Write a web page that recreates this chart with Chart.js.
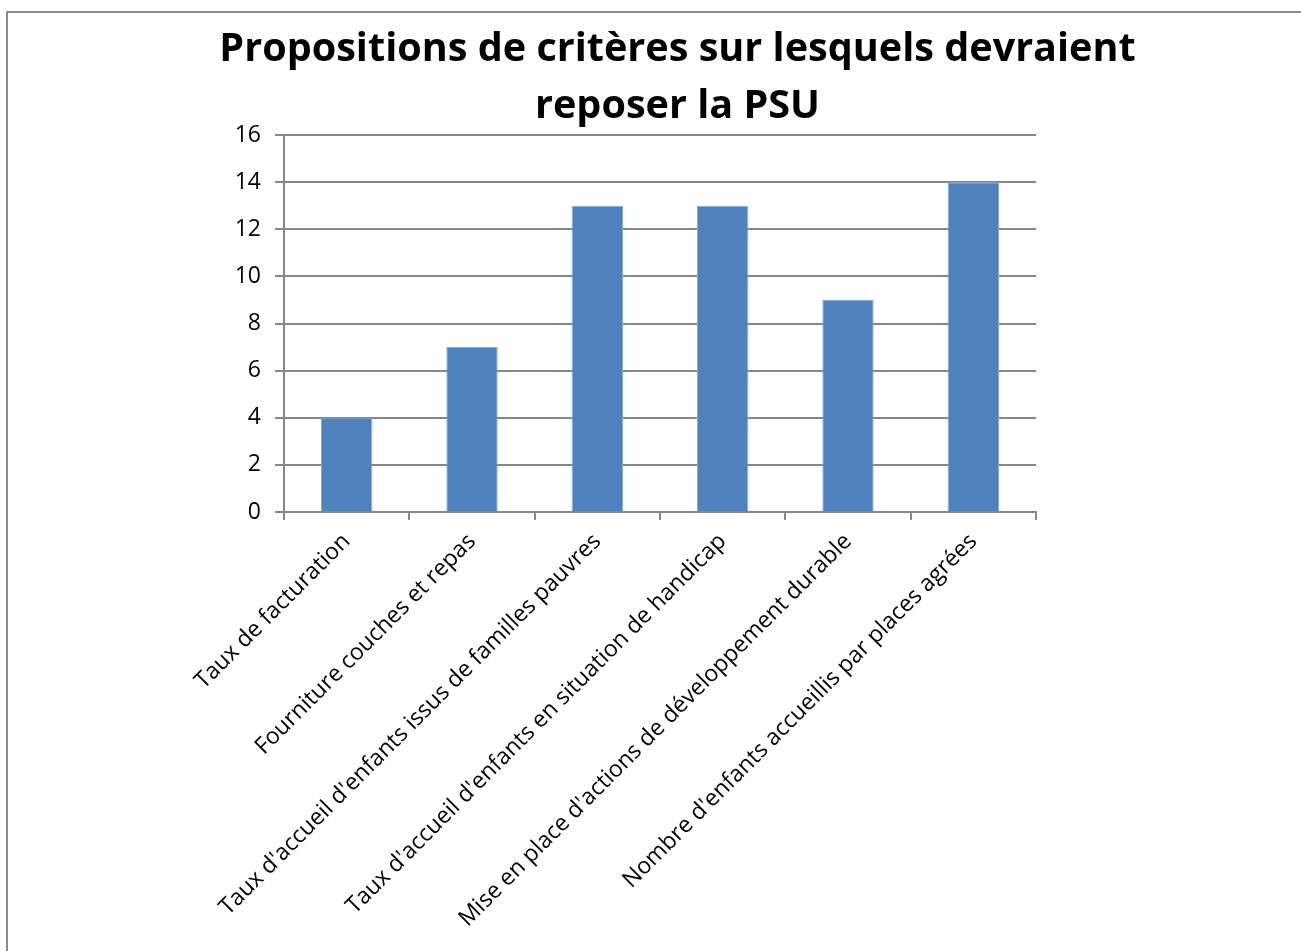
<!DOCTYPE html>
<html>
<head>
<meta charset="utf-8">
<script src="https://cdn.jsdelivr.net/npm/chart.js@4"></script>
<style>
    body { margin: 0; background: #fff; }
    #wrap { width: 1301px; height: 951px; }
</style>
</head>
<body>
<div id="wrap"><canvas id="psuChart" width="1301" height="951"></canvas></div>
<script>
const categories = [
    "Taux de facturation",
    "Fourniture couches et repas",
    "Taux d'accueil d'enfants issus de familles pauvres",
    "Taux d'accueil d'enfants en situation de handicap",
    "Mise en place d'actions de développement durable",
    "Nombre d'enfants accueillis par places agrées"
];
const counts = [4, 7, 13, 13, 9, 14];
const yTicks = [0, 2, 4, 6, 8, 10, 12, 14, 16];
const titleLines = ["Propositions de critères sur lesquels devraient", "reposer la PSU"];

// cadre gris (haut et gauche seulement, le reste sort de l'image)
const framePlugin = {
    id: "frame",
    beforeDraw(chart) {
        const ctx = chart.ctx;
        ctx.save();
        ctx.fillStyle = "#fff";
        ctx.fillRect(0, 0, chart.width, chart.height);
        ctx.strokeStyle = "#8c8c8c";
        ctx.lineWidth = 2;
        ctx.strokeRect(7, 12, 1310, 960);
        ctx.restore();
    }
};

const ctx = document.getElementById("psuChart").getContext("2d");
new Chart(ctx, {
    type: "bar",
    data: {
        labels: categories,
        datasets: [{
            data: counts,
            backgroundColor: "#4F81BD",
            borderColor: "#8AAAD3",
            borderWidth: 1,
            categoryPercentage: 1,
            barPercentage: 0.41
        }]
    },
    options: {
        responsive: false,
        animation: false,
        layout: { padding: { left: 54, right: 0, top: 0, bottom: 0 } },
        plugins: {
            legend: { display: false },
            tooltip: { enabled: false },
            title: {
                display: true,
                text: titleLines,
                color: "#000",
                font: { family: "Open Sans", size: 39.6, weight: "bold", lineHeight: 1.44 },
                padding: { top: 21, bottom: 0 },
                align: "center"
            }
        },
        scales: {
            x: {
                afterFit: s => { s.height = 439; },
                grid: {
                    display: true,
                    drawOnChartArea: false,
                    offset: true,
                    tickLength: 8,
                    color: "#868686",
                    lineWidth: 2
                },
                border: { color: "#868686", width: 2 },
                ticks: {
                    autoSkip: false,
                    maxRotation: 45,
                    minRotation: 45,
                    color: "#000",
                    padding: 8,
                    font: { family: "Open Sans", size: 23 }
                }
            },
            y: {
                min: 0,
                max: 16,
                afterFit: s => { s.width = 230; },
                afterBuildTicks: s => { s.ticks = yTicks.map(v => ({ value: v })); },
                grid: {
                    color: "#868686",
                    lineWidth: 2,
                    tickLength: 9
                },
                border: { color: "#868686", width: 2 },
                ticks: {
                    color: "#000",
                    padding: 14,
                    font: { family: "Open Sans", size: 23 }
                }
            },
            // axe vide a droite pour reserver la marge sans decentrer le titre
            yRight: {
                position: "right",
                display: true,
                afterFit: s => { s.width = 265; },
                grid: { display: false },
                border: { display: false },
                ticks: { display: false }
            }
        }
    },
    plugins: [framePlugin]
});
</script>
</body>
</html>
